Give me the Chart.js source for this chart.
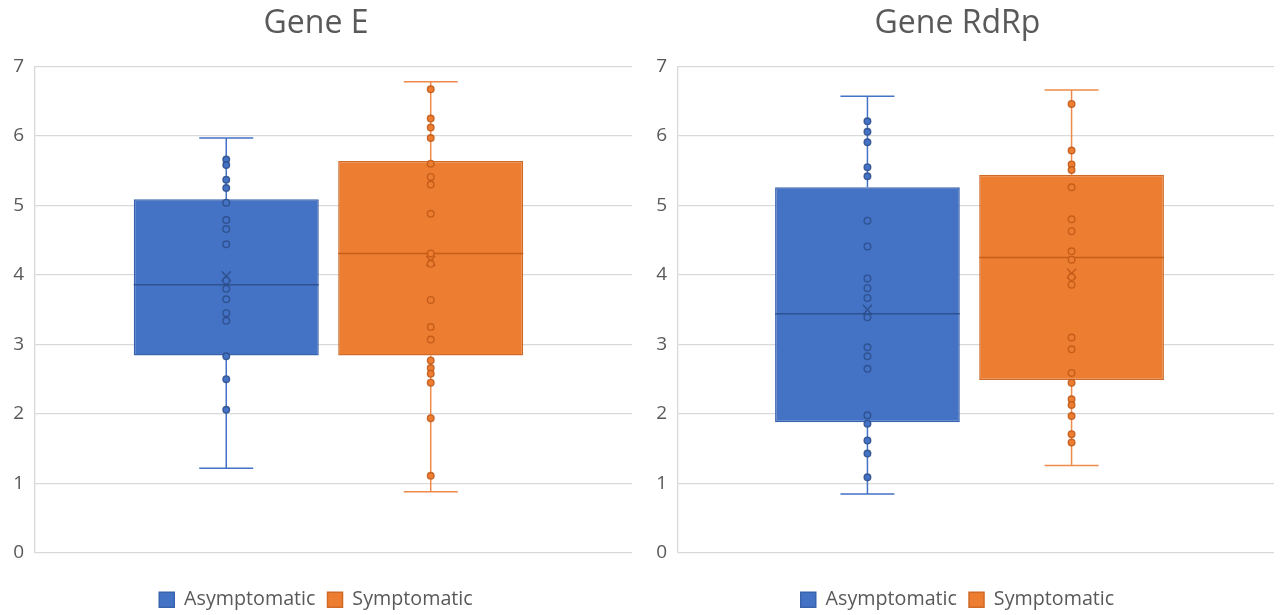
<!DOCTYPE html>
<html>
<head>
<meta charset="utf-8">
<script src="https://cdn.jsdelivr.net/npm/chart.js@4.4.1/dist/chart.umd.min.js"></script>
<style>
  html, body { margin: 0; padding: 0; background: #fff; }
  #wrap { width: 1282px; height: 615px; display: flex; }
  .cell { width: 641px; height: 615px; position: relative; }
</style>
</head>
<body>
<div id="wrap">
  <div class="cell"><canvas id="c1" width="641" height="615"></canvas></div>
  <div class="cell"><canvas id="c2" width="641" height="615"></canvas></div>
</div>
<script>
// ---- Data ----
const seriesNames = ['Asymptomatic', 'Symptomatic'];
const yTicks = [0, 1, 2, 3, 4, 5, 6, 7];

// Gene E: [min, q1, median, q3, max], mean, inner points
const geneE_asym_box = [1.22, 2.84, 3.86, 5.09, 5.97];
const geneE_asym_mean = 3.98;
const geneE_asym_points = [5.66, 5.58, 5.37, 5.25, 5.04, 4.79, 4.66, 4.44, 3.92, 3.80, 3.65, 3.45, 3.34, 2.83, 2.50, 2.06];

const geneE_symp_box = [0.88, 2.84, 4.31, 5.64, 6.78];
const geneE_symp_mean = 4.20;
const geneE_symp_points = [6.67, 6.25, 6.12, 5.97, 5.60, 5.41, 5.30, 4.88, 4.31, 4.16, 3.64, 3.25, 3.07, 2.77, 2.66, 2.58, 2.45, 1.94, 1.11];

// Gene RdRp
const rdrp_asym_box = [0.85, 1.88, 3.44, 5.26, 6.57];
const rdrp_asym_mean = 3.50;
const rdrp_asym_points = [6.21, 6.06, 5.91, 5.55, 5.42, 4.78, 4.41, 3.95, 3.81, 3.67, 3.39, 2.96, 2.83, 2.65, 1.98, 1.86, 1.62, 1.43, 1.09];

const rdrp_symp_box = [1.26, 2.49, 4.25, 5.44, 6.66];
const rdrp_symp_mean = 4.02;
const rdrp_symp_points = [6.46, 5.79, 5.59, 5.51, 5.26, 4.80, 4.63, 4.34, 4.22, 3.97, 3.86, 3.10, 2.93, 2.59, 2.45, 2.21, 2.13, 1.97, 1.71, 1.59];

// ---- Styles ----
const FONT = '"Open Sans", "DejaVu Sans", sans-serif';
const TEXT = '#595959';
const GRID = '#D9D9D9';
const styles = [
  { fill: '#4472C4', border: '#3A63AE', dark: 'rgba(44,76,138,0.85)', whisker: '#4472C4' },
  { fill: '#ED7D31', border: '#D06A28', dark: 'rgba(190,88,22,0.85)', whisker: '#EE8A4A' }
];

const boxExtras = {
  id: 'boxExtras',
  afterDatasetsDraw(chart, args, opts) {
    const ctx = chart.ctx;
    const y = chart.scales.y;
    opts.series.forEach((s, i) => {
      const meta = chart.getDatasetMeta(i);
      const bar = meta.data[0];
      if (!bar) return;
      const x = bar.x;
      const st = styles[i];
      const [mn, q1, med, q3, mx] = s.box;
      ctx.save();
      // whiskers
      ctx.strokeStyle = st.whisker;
      ctx.lineWidth = 1.5;
      ctx.beginPath();
      ctx.moveTo(x, y.getPixelForValue(q3));
      ctx.lineTo(x, y.getPixelForValue(mx));
      ctx.moveTo(x, y.getPixelForValue(q1));
      ctx.lineTo(x, y.getPixelForValue(mn));
      const cap = 27;
      ctx.moveTo(x - cap, y.getPixelForValue(mx));
      ctx.lineTo(x + cap, y.getPixelForValue(mx));
      ctx.moveTo(x - cap, y.getPixelForValue(mn));
      ctx.lineTo(x + cap, y.getPixelForValue(mn));
      ctx.stroke();
      // median
      ctx.strokeStyle = st.dark;
      ctx.lineWidth = 1.5;
      const half = bar.width / 2;
      ctx.beginPath();
      ctx.moveTo(x - half, y.getPixelForValue(med));
      ctx.lineTo(x + half, y.getPixelForValue(med));
      ctx.stroke();
      // mean X
      const my = y.getPixelForValue(s.mean);
      ctx.beginPath();
      ctx.moveTo(x - 4.5, my - 5);
      ctx.lineTo(x + 4.5, my + 5);
      ctx.moveTo(x + 4.5, my - 5);
      ctx.lineTo(x - 4.5, my + 5);
      ctx.stroke();
      // points
      s.points.forEach(v => {
        ctx.beginPath();
        ctx.arc(x, y.getPixelForValue(v), 3.3, 0, Math.PI * 2);
        ctx.fillStyle = st.fill;
        ctx.fill();
        ctx.lineWidth = 1.4;
        ctx.strokeStyle = st.dark;
        ctx.stroke();
      });
      ctx.restore();
    });
  }
};

function makeChart(id, title, asymBox, asymMean, asymPts, sympBox, sympMean, sympPts, leftW, rightPad, xShift) {
  const series = [
    { box: asymBox, mean: asymMean, points: asymPts },
    { box: sympBox, mean: sympMean, points: sympPts }
  ];
  return new Chart(document.getElementById(id), {
    type: 'bar',
    data: {
      labels: [''],
      datasets: series.map((s, i) => ({
        label: seriesNames[i],
        data: [[s.box[1], s.box[3]]],
        backgroundColor: styles[i].fill,
        borderColor: styles[i].border,
        borderWidth: 1.5,
        borderSkipped: false,
        categoryPercentage: 0.685,
        barPercentage: 0.905
      }))
    },
    options: {
      responsive: false,
      animation: false,
      layout: { padding: { left: 0, right: rightPad, top: 0, bottom: 0 } },
      scales: {
        x: {
          display: true,
          grid: { display: false, drawTicks: false },
          border: { display: false },
          ticks: { display: false },
          afterDataLimits: (ax) => { ax.min = xShift; ax.max = xShift; },
          afterFit: (ax) => { ax.height = 25; }
        },
        y: {
          min: 0, max: 7,
          afterBuildTicks: (ax) => { ax.ticks = yTicks.map(v => ({ value: v })); },
          afterFit: (ax) => { ax.width = leftW; },
          ticks: { color: TEXT, font: { family: FONT, size: 19 }, padding: 11 },
          grid: { color: GRID, lineWidth: 1.3, drawTicks: false },
          border: { display: true, color: GRID, width: 1.3 }
        }
      },
      plugins: {
        title: {
          display: true, text: title, color: TEXT,
          font: { family: FONT, size: 32, weight: 'normal' },
          padding: { top: 5, bottom: 23 }
        },
        legend: {
          position: 'bottom',
          maxHeight: 37,
          labels: {
            color: TEXT, font: { family: FONT, size: 19.7 },
            boxWidth: 15, boxHeight: 15, padding: 12
          }
        },
        tooltip: { enabled: false },
        boxExtras: { series }
      }
    },
    plugins: [boxExtras]
  });
}

makeChart('c1', 'Gene E', geneE_asym_box, geneE_asym_mean, geneE_asym_points,
  geneE_symp_box, geneE_symp_mean, geneE_symp_points, 35, 9, 0.0084);
makeChart('c2', 'Gene RdRp', rdrp_asym_box, rdrp_asym_mean, rdrp_asym_points,
  rdrp_symp_box, rdrp_symp_mean, rdrp_symp_points, 37, 8, 0.0109);
</script>
</body>
</html>
